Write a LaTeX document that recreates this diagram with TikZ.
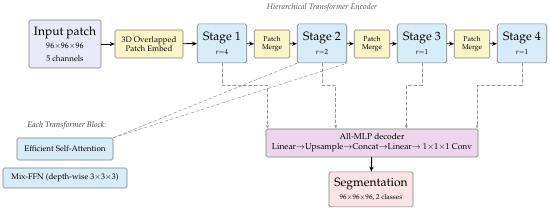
\documentclass[tikz,border=0pt]{standalone}
\usepackage[T1]{fontenc}
\usepackage{mathpazo}
\usetikzlibrary{arrows.meta}
\definecolor{inlav}{RGB}{233,233,250}
\definecolor{embyel}{RGB}{252,245,200}
\definecolor{stblue}{RGB}{214,236,248}
\definecolor{decpur}{RGB}{236,214,236}
\definecolor{segpink}{RGB}{253,228,228}
\definecolor{edgegray}{RGB}{125,125,125}
\definecolor{tapgray}{RGB}{150,150,150}

\begin{document}
\begin{tikzpicture}[line cap=round,line join=round,x=1cm,y=1cm,
  box/.style={draw=edgegray,rounded corners=1.5pt,line width=0.6pt,align=center,inner sep=0pt},
  stagebox/.style={box,fill=stblue,minimum width=1.73cm,minimum height=1.365cm},
  mergebox/.style={box,fill=embyel,font=\scriptsize,minimum width=1.24cm,minimum height=0.98cm},
  flow/.style={-{Stealth[length=5pt,width=4.2pt]},black,line width=0.9pt},
  tap/.style={-{Stealth[length=3.6pt,width=3pt]},tapgray,line width=0.55pt,dash pattern=on 3.2pt off 2.2pt},
  zoomline/.style={tapgray,line width=0.5pt,dash pattern=on 3.2pt off 2.2pt}]
\useasboundingbox (0,0) rectangle (19.25,7.42);
% encoder row
\node[font=\footnotesize\itshape,text=black!70] (title) at (11.27,7.14) {Hierarchical Transformer Encoder};
\node[box,fill=inlav,minimum width=2.52cm,minimum height=1.68cm] (inp) at (2.275,5.88)
  {{\large Input patch}\\[1pt]{\footnotesize $96{\times}96{\times}96$}\\[1pt]{\footnotesize 5 channels}};
\node[box,fill=embyel,font=\footnotesize,minimum width=2.38cm,minimum height=0.98cm] (emb) at (5.215,5.88)
  {3D Overlapped\\Patch Embed};
\node[stagebox] (s1) at (7.77,5.90) {{\large Stage 1}\\[2pt]{\scriptsize $r{=}4$}};
\node[mergebox] (m1) at (9.52,5.88) {Patch\\Merge};
\node[stagebox] (s2) at (11.27,5.90) {{\large Stage 2}\\[2pt]{\scriptsize $r{=}2$}};
\node[mergebox] (m2) at (13.02,5.88) {Patch\\Merge};
\node[stagebox] (s3) at (14.77,5.90) {{\large Stage 3}\\[2pt]{\scriptsize $r{=}1$}};
\node[mergebox] (m3) at (16.52,5.88) {Patch\\Merge};
\node[stagebox] (s4) at (18.27,5.90) {{\large Stage 4}\\[2pt]{\scriptsize $r{=}1$}};
\draw[flow] (inp) -- (emb);
\draw[flow] (emb) -- (s1);
\draw[flow] (s1) -- (m1);
\draw[flow] (m1) -- (s2);
\draw[flow] (s2) -- (m2);
\draw[flow] (m2) -- (s3);
\draw[flow] (s3) -- (m3);
\draw[flow] (m3) -- (s4);
% decoder and output
\node[box,fill=decpur,font=\fontsize{8.4}{10}\selectfont,minimum width=7.42cm,minimum height=0.98cm] (dec) at (13.02,2.415)
  {All-MLP decoder\\[0pt]Linear$\rightarrow$Upsample$\rightarrow$Concat$\rightarrow$Linear$\rightarrow$ $1{\times}1{\times}1$ Conv};
\node[box,fill=segpink,minimum width=2.94cm,minimum height=1.225cm] (seg) at (12.985,0.79)
  {{\large Segmentation}\\[1pt]{\scriptsize $96{\times}96{\times}96$, 2 classes}};
\draw[flow] (dec) -- (seg);
\coordinate (d1) at (9.36,2.925);
\coordinate (d2) at (11.75,2.925);
\coordinate (d3) at (14.22,2.925);
\coordinate (d4) at (16.70,2.925);
\draw[tap] (s1.south) -- ++(0,-0.77) -| (d1);
\draw[tap] (s2.south) -- ++(0,-0.77) -| (d2);
\draw[tap] (s3.south) -- ++(0,-0.77) -| (d3);
\draw[tap] (s4.south) -- ++(0,-0.77) -| (d4);
% transformer block detail
\node[font=\footnotesize\itshape,text=black!80] (blk) at (2.345,3.01) {Each Transformer Block:};
\node[box,fill=stblue,font=\footnotesize,minimum width=3.36cm,minimum height=0.77cm] (esa) at (2.275,2.205)
  {Efficient Self-Attention};
\node[box,fill=stblue,font=\footnotesize,minimum width=4.34cm,minimum height=0.70cm] (ffn) at (2.275,1.19)
  {Mix-FFN (depth-wise $3{\times}3{\times}3$)};
\draw[zoomline] (esa.north east) -- (s2.south west);
\draw[zoomline] (esa.north east) -- (s2.south east);
\end{tikzpicture}
\end{document}
